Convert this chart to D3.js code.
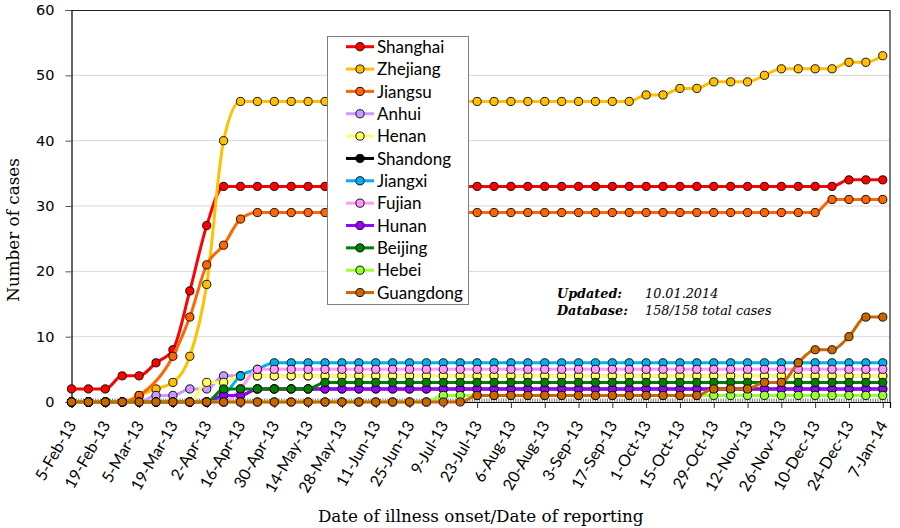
<!DOCTYPE html>
<html><head><meta charset="utf-8">
<script src="https://cdn.jsdelivr.net/npm/d3@7"></script>
<style>body{margin:0;background:#fff} svg{display:block}</style>
</head><body><svg id="c" width="900" height="528"></svg>
<script>
// ---- data ----
const weeks = [
 "2013-02-05","2013-02-12","2013-02-19","2013-02-26","2013-03-05","2013-03-12","2013-03-19","2013-03-26","2013-04-02","2013-04-09",
 "2013-04-16","2013-04-23","2013-04-30","2013-05-07","2013-05-14","2013-05-21","2013-05-28","2013-06-04","2013-06-11","2013-06-18",
 "2013-06-25","2013-07-02","2013-07-09","2013-07-16","2013-07-23","2013-07-30","2013-08-06","2013-08-13","2013-08-20","2013-08-27",
 "2013-09-03","2013-09-10","2013-09-17","2013-09-24","2013-10-01","2013-10-08","2013-10-15","2013-10-22","2013-10-29","2013-11-05",
 "2013-11-12","2013-11-19","2013-11-26","2013-12-03","2013-12-10","2013-12-17","2013-12-24","2013-12-31","2014-01-07"];
const axisStart = "2013-02-05", axisEnd = "2014-01-10";
const tickLabels = ["5-Feb-13","19-Feb-13","5-Mar-13","19-Mar-13","2-Apr-13","16-Apr-13","30-Apr-13","14-May-13","28-May-13",
 "11-Jun-13","25-Jun-13","9-Jul-13","23-Jul-13","6-Aug-13","20-Aug-13","3-Sep-13","17-Sep-13","1-Oct-13","15-Oct-13",
 "29-Oct-13","12-Nov-13","26-Nov-13","10-Dec-13","24-Dec-13","7-Jan-14"];
const yTicks = [0,10,20,30,40,50,60];
const seriesNames = ["Shanghai","Zhejiang","Jiangsu","Anhui","Henan","Shandong","Jiangxi","Fujian","Hunan","Beijing","Hebei","Guangdong"];

const shanghai = [2,2,2,4,4,6,8,17,27,33, 33,33,33,33,33,33,33,33,33,33, 33,33,33,33,33,33,33,33,33,33, 33,33,33,33,33,33,33,33,33,33, 33,33,33,33,33,33,34,34,34];
const zhejiang = [0,0,0,0,1,2,3,7,18,40, 46,46,46,46,46,46,46,46,46,46, 46,46,46,46,46,46,46,46,46,46, 46,46,46,46,47,47,48,48,49,49, 49,50,51,51,51,51,52,52,53];
const jiangsu  = [0,0,0,0,1,null,7,13,21,24, 28,29,29,29,29,29,29,29,29,29, 29,29,29,29,29,29,29,29,29,29, 29,29,29,29,29,29,29,29,29,29, 29,29,29,29,29,31,31,31,31];
const anhui    = [0,0,0,0,0,1,1,2,2,4, 4,4,4,4,4,4,4,4,4,4, 4,4,4,4,4,4,4,4,4,4, 4,4,4,4,4,4,4,4,4,4, 4,4,4,4,4,4,4,4,4];
const henan    = [0,0,0,0,0,0,0,0,3,3, 4,4,4,4,4,4,4,4,4,4, 4,4,4,4,4,4,4,4,4,4, 4,4,4,4,4,4,4,4,4,4, 4,4,4,4,4,4,4,4,4];
const shandong = [0,0,0,0,0,0,0,0,0,1, 1,2,2,2,2,2,2,2,2,2, 2,2,2,2,2,2,2,2,2,2, 2,2,2,2,2,2,2,2,2,2, 2,2,2,2,2,2,2,2,2];
const jiangxi  = [0,0,0,0,0,0,0,0,0,1, 4,5,6,6,6,6,6,6,6,6, 6,6,6,6,6,6,6,6,6,6, 6,6,6,6,6,6,6,6,6,6, 6,6,6,6,6,6,6,6,6];
const fujian   = [0,0,0,0,0,0,0,0,0,0, 2,5,5,5,5,5,5,5,5,5, 5,5,5,5,5,5,5,5,5,5, 5,5,5,5,5,5,5,5,5,5, 5,5,5,5,5,5,5,5,5];
const hunan    = [0,0,0,0,0,0,0,0,0,1, 1,2,2,2,2,2,2,2,2,2, 2,2,2,2,2,2,2,2,2,2, 2,2,2,2,2,2,2,2,2,2, 2,2,2,2,2,2,2,2,2];
const beijing  = [0,0,0,0,0,0,0,0,0,2, 2,2,2,2,2,3,3,3,3,3, 3,3,3,3,3,3,3,3,3,3, 3,3,3,3,3,3,3,3,3,3, 3,3,3,3,3,3,3,3,3];
const hebei    = [0,0,0,0,0,0,0,0,0,0, 0,0,0,0,0,0,0,0,0,0, 0,0,1,1,1,1,1,1,1,1, 1,1,1,1,1,1,1,1,1,1, 1,1,1,1,1,1,1,1,1];
const guangdong= [0,0,0,0,0,0,0,0,0,0, 0,0,0,0,0,0,0,0,0,0, 0,0,0,0,1,1,1,1,1,1, 1,1,1,1,1,1,1,1,2,2, 2,3,3,6,8,8,10,13,13];
const seriesValues = [shanghai,zhejiang,jiangsu,anhui,henan,shandong,jiangxi,fujian,hunan,beijing,hebei,guangdong];

const lineColors   = ["#FF0000","#FFC000","#FF6600","#CC99FF","#FFFF66","#000000","#00B0F0","#FF99FF","#9900FF","#008000","#99FF33","#CC6600"];
const markerColors = ["#FF0000","#FFC000","#FF6600","#CC99FF","#FFFF66","#000000","#00B0F0","#FF99FF","#9900FF","#008000","#99FF33","#CC6600"];

// ---- chart ----
const svg = d3.select("#c");
const parseISO = d3.timeParse("%Y-%m-%d");
const parseTick = d3.timeParse("%d-%b-%y");
const L = 71.5, R = 890, T = 10, B = 402;

const x = d3.scaleTime().domain([parseISO(axisStart), parseISO(axisEnd)]).range([L, R]);
const y = d3.scaleLinear().domain([0, 60]).range([B, T]);

// gridlines
svg.append("g").selectAll("line").data(yTicks.filter(v => v > 0 && v < 60)).join("line")
  .attr("x1", L).attr("x2", R).attr("y1", d => y(d)).attr("y2", d => y(d))
  .attr("stroke", "#d9d9d9").attr("stroke-width", 1);

// plot border top/right
svg.append("line").attr("x1", L).attr("x2", R).attr("y1", T + 0.5).attr("y2", T + 0.5).attr("stroke", "#222").attr("stroke-width", 1.2);
svg.append("line").attr("x1", R).attr("x2", R).attr("y1", T).attr("y2", B).attr("stroke", "#222").attr("stroke-width", 1.2);

// minor daily ticks
const days = d3.timeDay.range(parseISO(axisStart), parseISO(axisEnd));
svg.append("g").selectAll("line").data(days).join("line")
  .attr("x1", d => x(d)).attr("x2", d => x(d)).attr("y1", B).attr("y2", B - 3.5)
  .attr("stroke", "#555").attr("stroke-width", 0.8);

// y axis
const yAxis = svg.append("g").attr("transform", `translate(${L},0)`)
  .call(d3.axisLeft(y).tickValues(yTicks).tickSize(6).tickPadding(11));
yAxis.select(".domain").attr("stroke", "#000").attr("stroke-width", 1.2);
yAxis.selectAll(".tick line").attr("stroke", "#555");
yAxis.selectAll("text").attr("font-family", "DejaVu Sans").attr("font-size", "14.5px").attr("fill", "#000");

// x axis
const tickDates = tickLabels.map(parseTick);
const xAxis = svg.append("g").attr("transform", `translate(0,${B})`)
  .call(d3.axisBottom(x).tickValues(tickDates).tickSize(6).tickFormat((d, i) => tickLabels[i]));
xAxis.select(".domain").attr("stroke", "#000").attr("stroke-width", 1.2);
xAxis.selectAll(".tick line").attr("stroke", "#333");
xAxis.selectAll("text")
  .attr("font-family", "Lato").attr("font-size", "16px").attr("fill", "#000")
  .attr("text-anchor", "end").attr("dy", null).attr("y", null)
  .attr("transform", "translate(5,23) rotate(-60)");

// series
const line = d3.line().x(d => x(d.date)).y(d => y(d.v)).curve(d3.curveMonotoneX);
seriesValues.forEach((vals, si) => {
  const pts = vals.map((v, i) => ({date: parseISO(weeks[i]), v})).filter(d => d.v !== null);
  const g = svg.append("g");
  g.append("path").datum(pts).attr("d", line).attr("fill", "none")
    .attr("stroke", lineColors[si]).attr("stroke-width", 3).attr("stroke-linejoin", "round");
  g.selectAll("circle").data(pts).join("circle")
    .attr("cx", d => x(d.date)).attr("cy", d => y(d.v)).attr("r", 4.1)
    .attr("fill", markerColors[si]).attr("stroke", "#000").attr("stroke-width", 0.9);
});

// legend
const lg = svg.append("g");
lg.append("rect").attr("x", 327.5).attr("y", 36.5).attr("width", 141).attr("height", 268)
  .attr("fill", "#fff").attr("stroke", "#808080").attr("stroke-width", 1);
seriesNames.forEach((name, i) => {
  const cy = 46.7 + i * 22.35;
  lg.append("line").attr("x1", 346).attr("x2", 374).attr("y1", cy).attr("y2", cy)
    .attr("stroke", lineColors[i]).attr("stroke-width", 3);
  lg.append("circle").attr("cx", 360).attr("cy", cy).attr("r", 4.1)
    .attr("fill", markerColors[i]).attr("stroke", "#000").attr("stroke-width", 0.9);
  lg.append("text").attr("x", 377).attr("y", cy).attr("dy", "0.36em")
    .attr("font-family", "Lato").attr("font-size", "17px").attr("fill", "#000").text(name);
});

// annotation
const ann = svg.append("g").attr("font-family", "DejaVu Serif").attr("font-size", "12.8px").attr("font-style", "italic").attr("fill", "#000");
ann.append("text").attr("x", 557).attr("y", 298).attr("font-weight", "bold").text("Updated:");
ann.append("text").attr("x", 645).attr("y", 298).text("10.01.2014");
ann.append("text").attr("x", 557).attr("y", 315).attr("font-weight", "bold").text("Database:");
ann.append("text").attr("x", 645).attr("y", 315).text("158/158 total cases");

// axis titles
const xt = svg.append("text").attr("x", (L + R) / 2).attr("y", 522).attr("text-anchor", "middle")
  .attr("font-family", "DejaVu Serif").attr("font-size", "17px").attr("fill", "#000")
  .text("Date of illness onset/Date of reporting");
const w = xt.node().getComputedTextLength();
const fs = 17 * 326 / w;
xt.attr("font-size", fs + "px");
svg.append("text").attr("transform", "translate(19,230) rotate(-90)").attr("text-anchor", "middle")
  .attr("font-family", "DejaVu Serif").attr("font-size", fs + "px").attr("fill", "#000")
  .text("Number of cases");
</script></body></html>
